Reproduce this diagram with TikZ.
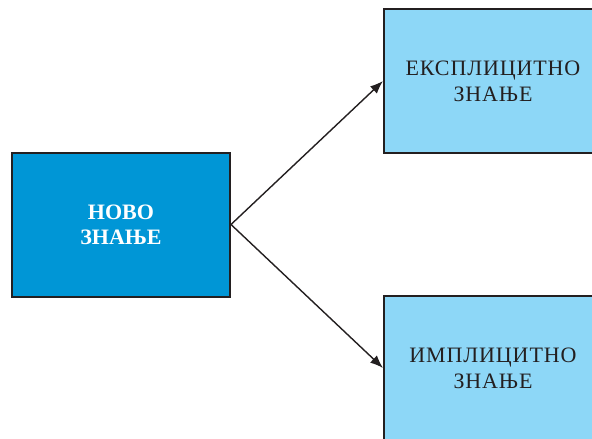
\documentclass[tikz,border=0pt]{standalone}
\usepackage{fontspec}
\setmainfont{Liberation Serif}
\newfontfamily\spacedserif[LetterSpace=4]{Liberation Serif}
\usetikzlibrary{arrows.meta}
\definecolor{edgegray}{HTML}{231F20}
\definecolor{deepblue}{HTML}{0096D6}
\definecolor{paleblue}{HTML}{8DD7F7}
\tikzset{
  box/.style={draw=edgegray, line width=2pt, minimum width=218pt, minimum height=144pt,
    inner sep=0pt, align=center},
  mainbox/.style={box, fill=deepblue, text=white, font=\fontsize{22}{25}\selectfont\bfseries},
  kindbox/.style={box, fill=paleblue, text=edgegray, font=\spacedserif\fontsize{22}{26}\selectfont},
  link/.style={draw=edgegray, line width=1.4pt, -{Latex[length=13pt,width=10pt]}}
}
\begin{document}
\begin{tikzpicture}[x=1pt,y=-1pt]
  \useasboundingbox (0,0) rectangle (592,439);
  \clip (0,0) rectangle (592,439);
  \node[mainbox] (novo) at (121,224.5) {НОВО\\ЗНАЊЕ};
  \node[kindbox] (eks) at (493,81) {ЕКСПЛИЦИТНО\\ЗНАЊЕ};
  \node[kindbox] (imp) at (493,368) {ИМПЛИЦИТНО\\ЗНАЊЕ};
  \draw[link] (novo.east) -- (eks.west);
  \draw[link] (novo.east) -- (imp.west);
\end{tikzpicture}
\end{document}
